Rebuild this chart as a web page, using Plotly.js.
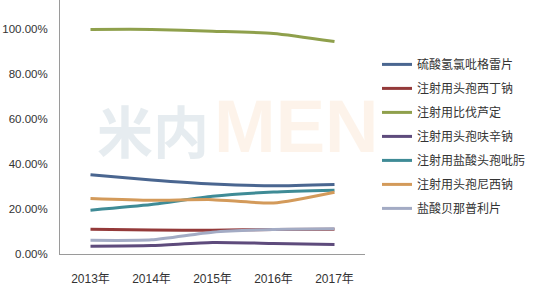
<!DOCTYPE html>
<html><head><meta charset="utf-8">
<script src="https://cdn.plot.ly/plotly-3.0.1.min.js"></script>
<style>html,body{margin:0;padding:0;background:#fff}#c{width:544px;height:294px}</style>
</head><body><div id="c"></div>
<script>
const years = ['2013年','2014年','2015年','2016年','2017年'];
const names = ['硫酸氢氯吡格雷片','注射用头孢西丁钠','注射用比伐芦定','注射用头孢呋辛钠','注射用盐酸头孢吡肟','注射用头孢尼西钠','盐酸贝那普利片'];
const clopidogrel = [35.3, 33.0, 31.2, 30.4, 31.0];
const cefoxitin = [11.0, 10.7, 10.6, 10.9, 11.0];
const bivalirudin = [100.0, 100.0, 99.2, 98.2, 94.6];
const cefuroxime = [3.5, 3.8, 5.1, 4.7, 4.2];
const cefepime = [19.5, 22.0, 25.7, 27.6, 28.4];
const cefonicid = [24.7, 23.9, 24.2, 22.7, 27.5];
const benazepril = [6.1, 6.3, 9.7, 10.9, 11.2];
const series = [clopidogrel, cefoxitin, bivalirudin, cefuroxime, cefepime, cefonicid, benazepril];
const colors = ['#4a6690','#943a3a','#8fa04c','#5e4b7c','#3f8b96','#d39a5a','#a3abc4'];
const yTicks = [0,20,40,60,80,100];

const traces = series.map((s,i)=>({
  x: years, y: s, name: names[i], type:'scatter', mode:'lines',
  line:{color:colors[i], width:3, shape:'spline', smoothing:0.6},
  legendgroup:'g'+i
}));

const layout = {
  width:544, height:294,
  margin:{l:60, r:179, t:0, b:40},
  paper_bgcolor:'#fff', plot_bgcolor:'#fff',
  font:{family:'"Noto Sans CJK SC", "DejaVu Sans", sans-serif', color:'#333'},
  xaxis:{type:'category', range:[-0.5,4.5], showgrid:false, zeroline:false,
    showline:true, linecolor:'#9a9a9a', linewidth:1, ticks:'',
    tickfont:{size:12, family:'"Liberation Sans", Arial, "Noto Sans CJK SC", sans-serif', color:'#333'}, ticklabelstandoff:14},
  yaxis:{range:[0,113.1], tickvals:yTicks, ticktext:yTicks.map(v=>v.toFixed(2)+'%'),
    showgrid:false, zeroline:false, showline:true, linecolor:'#9a9a9a', linewidth:1, ticks:'',
    tickfont:{size:11.5, family:'"Liberation Sans", Arial, sans-serif', color:'#333'}, ticklabelstandoff:9},
  showlegend:true,
  legend:{x:(377-60)/305, xanchor:'left', y:(254.5-50)/254.5, yanchor:'top',
    traceorder:'grouped', tracegroupgap:5, itemwidth:30,
    font:{size:12, color:'#333', family:'"Noto Sans CJK SC", sans-serif'}, bgcolor:'rgba(0,0,0,0)'},
  annotations:[
    {xref:'paper', yref:'paper', x:(95-60)/305, y:(254.5-129)/254.5, xanchor:'left', yanchor:'middle',
     text:'<b>米内</b>', showarrow:false, opacity:0.55,
     font:{size:56, color:'#d3dee4', family:'"Noto Sans CJK SC", sans-serif'}},
    {xref:'paper', yref:'paper', x:(212-60)/305, y:(254.5-127)/254.5, xanchor:'left', yanchor:'middle',
     text:'<b>MEN</b>', showarrow:false, opacity:0.4,
     font:{size:74, color:'#fbe3cc', family:'"Liberation Sans", Arial, sans-serif'}}
  ]
};
Plotly.newPlot('c', traces, layout, {displayModeBar:false, staticPlot:true});
</script></body></html>
